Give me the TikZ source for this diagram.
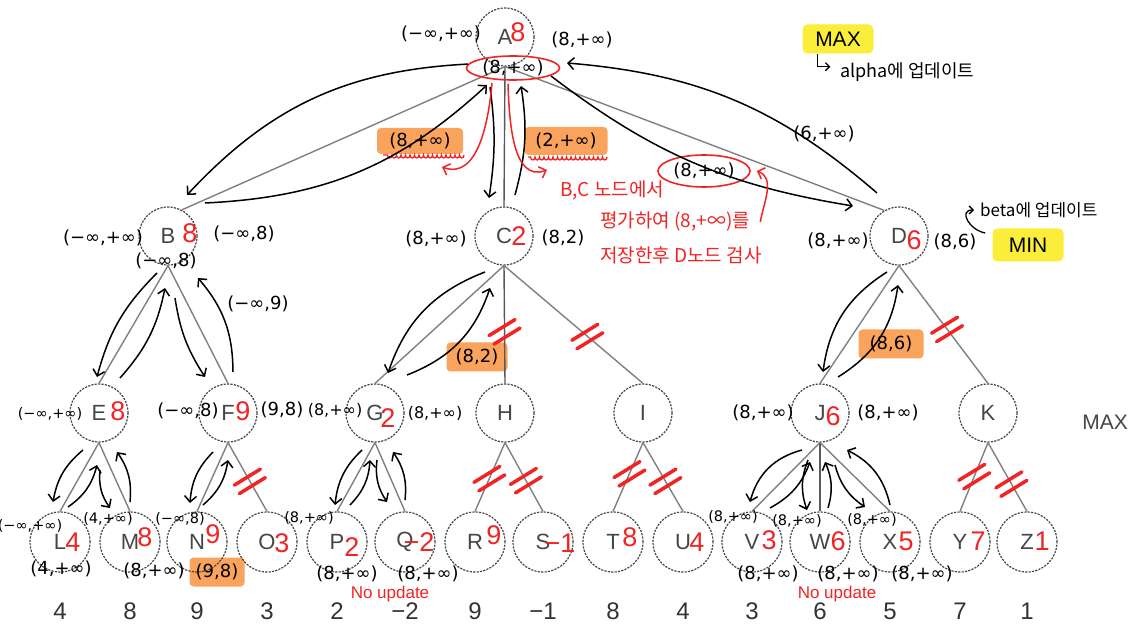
\documentclass[tikz,border=0pt]{standalone}
\usepackage{fontspec}
\setmainfont{Liberation Sans}
\newfontfamily\hand{DejaVu Sans}
\newfontfamily\kr{Noto Sans CJK KR}
\usepackage{tikz}
\usetikzlibrary{arrows.meta,positioning,calc,shapes.geometric,decorations.pathmorphing}
\definecolor{penred}{RGB}{240,36,36}
\definecolor{hlorange}{RGB}{249,163,92}
\definecolor{hlyellow}{RGB}{250,238,58}
\definecolor{nodegray}{RGB}{70,70,70}
% two short strokes across a pruned edge
\newcommand\cutat[1]{%
  \draw[cut] ($(#1)+(-15.5,-4)$) -- ++(26,16);
  \draw[cut] ($(#1)+(-10.5,-12.5)$) -- ++(26,16);}

\begin{document}
\begin{tikzpicture}[x=1pt,y=1pt,
  nd/.style={circle,draw=nodegray,dash pattern=on 2.2pt off 1.2pt,line width=1.2pt,minimum size=58pt,inner sep=0pt,text=nodegray,font=\fontsize{22}{22}\selectfont},
  lf/.style={nd,minimum size=60pt},
  edge/.style={draw=gray,line width=1.4pt},
  edgek/.style={edge,draw=black!65},
  val/.style={text=penred,font=\fontsize{27}{27}\selectfont,inner sep=0pt},
  leafval/.style={text=black!80,font=\fontsize{24}{24}\selectfont,inner sep=0pt},
  ab/.style={font=\hand\fontsize{18}{18}\selectfont,inner sep=0pt},
  abm/.style={font=\hand\fontsize{16}{16}\selectfont,inner sep=0pt},
  abs/.style={font=\hand\fontsize{14.5}{14.5}\selectfont,inner sep=0pt},
  hl/.style={fill=hlorange,rounded corners=4pt,inner sep=0pt,font=\hand\fontsize{18}{18}\selectfont},
  yl/.style={fill=hlyellow,rounded corners=5pt,inner sep=0pt,minimum width=71pt,font=\fontsize{21}{21}\selectfont},
  arr/.style={-{Straight Barb[length=6pt,width=12pt]},line width=1.5pt},
  redarr/.style={arr,draw=penred},
  ring/.style={ellipse,draw=penred,line width=1.6pt,inner sep=0pt,font=\hand\fontsize{18}{18}\selectfont},
  cut/.style={penred,line width=3.5pt,line cap=round},
  wavy/.style={penred,line width=1.3pt,decorate,decoration={bumps,segment length=9pt,amplitude=3pt}},
  note/.style={text=penred,font=\kr\fontsize{19}{19}\selectfont,inner sep=0pt,anchor=west},
  noup/.style={text=penred,font=\fontsize{17}{17}\selectfont,inner sep=0pt},
  krtext/.style={font=\kr\fontsize{18}{18}\selectfont,inner sep=0pt,anchor=west}]
\path[use as bounding box,fill=white] (0,0) rectangle (1141,-628);

% highlighted values
\node[hl,minimum width=86pt,minimum height=26pt] (b1) at (420,-141) {(8,+∞)};
\node[hl,minimum width=83pt,minimum height=28pt] (b2) at (566,-141) {(2,+∞)};
\node[hl,minimum width=61pt,minimum height=29pt] (b3) at (477,-357) {(8,2)};
\node[hl,minimum width=65pt,minimum height=29pt] (b4) at (891,-344) {(8,6)};
\node[hl,minimum width=55pt,minimum height=29pt] (b5) at (217,-572) {(9,8)};
\node[yl,minimum height=29pt] (yMax) at (838,-39) {MAX};
\node[yl,minimum height=33pt] (yMin) at (1028,-245) {MIN};

% game tree
\node[nd] (A) at (505,-37) {A};
\node[nd] (B) at (168,-236) {B};
\node[nd] (C) at (504,-236) {C};
\node[nd] (D) at (899,-236) {D};
\node[nd] (E) at (99,-413) {E};
\node[nd] (F) at (228,-413) {F};
\node[nd] (G) at (375,-413) {G};
\node[nd] (H) at (505,-413) {H};
\node[nd] (I) at (643,-413) {I};
\node[nd] (J) at (820,-413) {J};
\node[nd] (K) at (988,-413) {K};
\foreach \n/\x/\v/\r/\dx/\dy in {L/60/4/4/13/0, M/130/8/8/15/5, N/197/9/9/16/8, O/267/3/3/15/-1,
    P/337/2/2/15/-5, Q/405/−2/−2/14/0, R/475/9/9/19/7, S/543/−1/−1/17/-1, T/613/8/8/17/5,
    U/683/4/4/14/0, V/752/3/3/17/2, W/820/6/6/18/1, X/890/5/5/16/1, Y/960/7/7/18/1, Z/1027/1/1/15/1}{
  \node[lf] (\n) at (\x,-542) {\n};
  \node[val] (r\n) at ([shift={(\dx,\dy)}]\n.center) {\r};
  \node[leafval] (v\n) at ([yshift=-69pt]\n.center) {\v};
}
\foreach \n/\r/\dx/\dy in {A/8/13/5, B/8/22/3, C/2/15/0, D/6/15/-4, E/8/19/2, F/9/15/2, G/2/13/-5, J/6/13/-3}
  \node[val] (r\n) at ([shift={(\dx,\dy)}]\n.center) {\r};

\draw[edge] (A.south) -- (B.62);
\draw[edgek] (A.south) -- (C.north);
\draw[edge] (A.south) -- (D.120);
\draw[edge] (B.south) -- (E.north);
\draw[edge] (B.south) -- (F.north);
\draw[edge] (C.south) -- (G.north);
\draw[edgek] (C.south) -- coordinate[pos=.56] (kH) (H.north);
\draw[edge] (C.south) -- coordinate[pos=.6] (kI) (I.north);
\draw[edge] (D.south) -- (J.north);
\draw[edge] (D.south) -- coordinate[pos=.54] (kK) (K.north);
\draw[edge] (E.south) -- (L.north);
\draw[edge] (E.south) -- (M.north);
\draw[edge] (F.south) -- (N.north);
\draw[edge] (F.south) -- coordinate[pos=.56] (kO) (O.north);
\draw[edge] (G.south) -- (P.north);
\draw[edge] (G.south) -- (Q.north);
\draw[edge] (H.south) -- coordinate[pos=.52] (kR) (R.north);
\draw[edge] (H.south) -- coordinate[pos=.55] (kS) (S.north);
\draw[edge] (I.south) -- coordinate[pos=.45] (kT) (T.north);
\draw[edge] (I.south) -- coordinate[pos=.56] (kU) (U.north);
\draw[edge] (J.south) -- (V.north);
\draw[edgek] (J.south) -- (W.north);
\draw[edge] (J.south) -- (X.north);
\draw[edge] (K.south) -- coordinate[pos=.49] (kY) (Y.north);
\draw[edge] (K.south) -- coordinate[pos=.6] (kZ) (Z.north);
\foreach \k in {kH,kI,kK,kO,kR,kS,kT,kU,kY,kZ} \cutat{\k};

% red marks at the root
\node[ring,minimum width=93pt,minimum height=24pt] (aE) at (513,-68) {(8,+∞)};
\node[ring,minimum width=92pt,minimum height=32pt] (dE) at (704,-171) {(8,+∞)};
\draw[wavy] ([shift={(44,-14)}]b1.center) -- ([shift={(-37,-14)}]b1.center);
\draw[wavy] ([shift={(41,-16)}]b2.center) -- ([shift={(-38,-16)}]b2.center);

% search order
\draw[arr] (aE.175) to[bend right=22] ([shift={(19,41)}]B.center);
\draw[arr] ([shift={(37,33)}]B.center) to[bend right=20] ([shift={(-26,-17)}]aE.center);
\draw[arr] ([shift={(-23,-19)}]aE.center) to[bend left=8] ([shift={(-15,38)}]C.center);
\draw[arr] ([shift={(11,41)}]C.center) to[bend right=12] ([shift={(8,-18)}]aE.center);
\draw[arr] ([shift={(38,-8)}]aE.center) to[bend right=14] ([shift={(-46,30)}]D.center);
\draw[arr] ([shift={(-22,43)}]D.center) to[bend right=18] ([shift={(54,5)}]aE.center);
\draw[redarr] ([shift={(-21,-15)}]aE.center) to[out=-95,in=-20] ([shift={(22,-26)}]b1.center);
\draw[redarr] ([shift={(-5,-16)}]aE.center) to[out=-88,in=200] ([shift={(-19,-29)}]b2.center);

\draw[arr] ([shift={(-11,-37)}]B.center) to[bend right=15] ([shift={(-2,36)}]E.center);
\draw[arr] ([shift={(21,35)}]E.center) to[bend right=15] ([shift={(-3,-52)}]B.center);
\draw[arr] ([shift={(7,-62)}]B.center) to[bend right=12] ([shift={(-23,36)}]F.center);
\draw[arr] ([shift={(5,41)}]F.center) to[bend right=20] ([shift={(30,-42)}]B.center);
\draw[arr] ([shift={(-16,-37)}]E.center) to[bend right=20] ([shift={(-7,40)}]L.center);
\draw[arr] ([shift={(8,35)}]L.center) to[bend right=20] ([shift={(-2,-52)}]E.center);
\draw[arr] ([shift={(1,-57)}]E.center) to[bend right=20] ([shift={(-20,34)}]M.center);
\draw[arr] ([shift={(0,40)}]M.center) to[bend right=20] ([shift={(18,-39)}]E.center);
\draw[arr] ([shift={(-15,-39)}]F.center) to[bend right=20] ([shift={(-7,39)}]N.center);
\draw[arr] ([shift={(6,37)}]N.center) to[bend right=20] ([shift={(0,-47)}]F.center);

\draw[arr] ([shift={(-19,-36)}]C.center) to[bend right=25] ([shift={(13,40)}]G.center);
\draw[arr] ([shift={(32,38)}]G.center) to[bend right=25] ([shift={(-14,-52)}]C.center);
\draw[arr] ([shift={(-13,-37)}]G.center) to[bend right=20] ([shift={(-2,37)}]P.center);
\draw[arr] ([shift={(13,37)}]P.center) to[bend right=20] ([shift={(-5,-47)}]G.center);
\draw[arr] ([shift={(2,-47)}]G.center) to[bend right=20] ([shift={(-18,40)}]Q.center);
\draw[arr] ([shift={(0,42)}]Q.center) to[bend right=20] ([shift={(18,-39)}]G.center);

\draw[arr] ([shift={(-12,-36)}]D.center) to[bend right=25] ([shift={(3,41)}]J.center);
\draw[arr] ([shift={(18,36)}]J.center) to[bend right=25] ([shift={(-1,-49)}]D.center);
\draw[arr] ([shift={(-18,-37)}]J.center) to[bend right=30] ([shift={(-2,40)}]V.center);
\draw[arr] ([shift={(18,34)}]V.center) to[bend right=20] ([shift={(-10,-49)}]J.center);
\draw[arr] ([shift={(-12,-47)}]J.center) to[bend right=20] ([shift={(-13,32)}]W.center);
\draw[arr] ([shift={(8,34)}]W.center) to[bend right=20] ([shift={(5,-49)}]J.center);
\draw[arr] ([shift={(15,-52)}]J.center) to[bend right=20] ([shift={(-25,35)}]X.center);
\draw[arr] ([shift={(0,37)}]X.center) to[bend right=25] ([shift={(27,-37)}]J.center);

% (alpha, beta) windows
\node[ab] (aAl) at (441,-34) {(−∞,+∞)};
\node[ab] (aAr) at (582,-40) {(8,+∞)};
\node[ab] (aDA) at (824,-134) {(6,+∞)};
\node[ab] (aDl) at (838,-241) {(8,+∞)};
\node[ab] (aDr) at (955,-242) {(8,6)};
\node[ab] (aCl) at (436,-239) {(8,+∞)};
\node[ab] (aCr) at (563,-238) {(8,2)};
\node[ab] (aBl) at (103,-238) {(−∞,+∞)};
\node[ab] (aBr) at (244,-234) {(−∞,8)};
\node[ab] (aBb) at (166,-261) {(−∞,8)};
\node[ab] (aFB) at (258,-304) {(−∞,9)};
\node[abs] (aEl) at (50,-414) {(−∞,+∞)};
\node[ab] (aFl) at (188,-411) {(−∞,8)};
\node[ab] (aFr) at (282,-410) {(9,8)};
\node[abm] (aGl) at (335,-410) {(8,+∞)};
\node[abm] (aGr) at (435,-413) {(8,+∞)};
\node[abs] (aLt) at (30,-526) {(−∞,+∞)};
\node[ab] (aLb) at (61,-569) {(4,+∞)};
\node[abs] (aMt) at (108,-519) {(4,+∞)};
\node[abs] (aNt) at (180,-519) {(−∞,8)};
\node[ab] (aNb) at (154,-571) {(8,+∞)};
\node[abs] (aPt) at (309,-518) {(8,+∞)};
\node[ab] (aPb) at (347,-574) {(8,+∞)};
\node[ab] (aQb) at (428,-574) {(8,+∞)};
\node[ab] (aJl) at (763,-413) {(8,+∞)};
\node[ab] (aJr) at (888,-413) {(8,+∞)};
\node[abs] (aVt) at (733,-517) {(8,+∞)};
\node[abs] (aWt) at (797,-521) {(8,+∞)};
\node[abs] (aXt) at (872,-520) {(8,+∞)};
\node[ab] (aVb) at (768,-574) {(8,+∞)};
\node[ab] (aWb) at (848,-574) {(8,+∞)};
\node[ab] (aXb) at (922,-574) {(8,+∞)};

% notes
\node[note] (note1) at (560,-190) {B,C 노드에서};
\node[note] (note2) at (600,-222) {평가하여 (8,+∞)를};
\node[note] (note3) at (600,-255) {저장한후 D노드 검사};
\draw[redarr] ([xshift=10pt]note2.east) to[out=80,in=-20] ([xshift=6pt]dE.east);
\node[noup] (nu1) at (390,-594) {No update};
\node[noup] (nu2) at (837,-594) {No update};
\node[krtext] (alpha) at (840,-72) {alpha에 업데이트};
\node[krtext,font=\kr\fontsize{17}{17}\selectfont] (beta) at (980,-210) {beta에 업데이트};
\draw[-{Straight Barb[length=4pt,width=8pt]},line width=1.3pt] ([xshift=15pt]yMax.south west) -- ++(0,-13) -- ++(13,0);
\draw[-{Straight Barb[length=4pt,width=8pt]},line width=1.3pt] ([shift={(-7,12)}]yMin.west) to[out=170,in=180,looseness=1.6] ([xshift=-6pt]beta.west);
\node[text=nodegray,font=\fontsize{21}{21}\selectfont] (maxK) at (1105,-422) {MAX};
\end{tikzpicture}
\end{document}
